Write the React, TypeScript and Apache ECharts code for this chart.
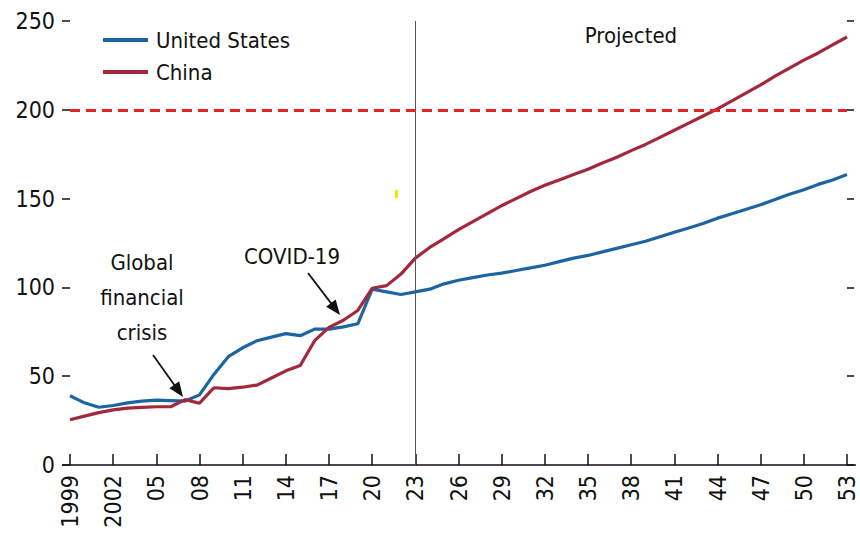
import React, { useEffect, useRef } from "react";
import * as echarts from "echarts";

const years = [
  "1999", "2000", "2001", "2002", "2003", "2004", "2005", "2006", "2007", "2008",
  "2009", "2010", "2011", "2012", "2013", "2014", "2015", "2016", "2017", "2018",
  "2019", "2020", "2021", "2022", "2023", "2024", "2025", "2026", "2027", "2028",
  "2029", "2030", "2031", "2032", "2033", "2034", "2035", "2036", "2037", "2038",
  "2039", "2040", "2041", "2042", "2043", "2044", "2045", "2046", "2047", "2048",
  "2049", "2050", "2051", "2052", "2053",
];

const tickLabels = [
  "1999", "2002", "05", "08", "11", "14", "17", "20", "23", "26",
  "29", "32", "35", "38", "41", "44", "47", "50", "53",
];

const usValues = [
  39, 35, 32.5, 33.5, 35, 36, 36.5, 36.3, 36, 39.5,
  51, 61, 66, 70, 72, 74, 72.8, 76.5, 76.5, 77.8,
  79.5, 99, 97.5, 96, 97.5, 99, 102, 104, 105.5, 107,
  108, 109.5, 111, 112.5, 114.5, 116.5, 118, 120, 122, 124,
  126, 128.5, 131, 133.5, 136, 139, 141.5, 144, 146.5, 149.5,
  152.5, 155, 158, 160.5, 163.5,
];

const chinaValues = [
  25.5, 27.5, 29.5, 31, 32, 32.5, 32.8, 32.8, 36.8, 34.8,
  43.5, 43, 43.8, 45, 49, 53, 56, 70, 77.5, 81.5,
  87, 99.5, 101, 107.5, 116.5, 122.5, 127.5, 132.5, 137, 141.5,
  146, 150, 154, 157.5, 160.5, 163.5, 166.5, 170, 173.3, 177,
  180.5, 184.5, 188.5, 192.5, 196.5, 200.5, 205, 209.5, 214, 219,
  223.5, 228, 232, 236.5, 241,
];

const projectionStart = "2023";
const thresholdValue = 200;

const FONT = "'Liberation Sans Narrow', 'Arial Narrow', 'DejaVu Sans Condensed', sans-serif";
const BLUE = "#1c64a2";
const RED = "#a3283b";

function arrow(x1: number, y1: number, x2: number, y2: number) {
  const dx = x2 - x1;
  const dy = y2 - y1;
  const len = Math.sqrt(dx * dx + dy * dy);
  const ux = dx / len;
  const uy = dy / len;
  const hl = 15;
  const hw = 6;
  const bx = x2 - ux * hl;
  const by = y2 - uy * hl;
  const px = -uy * hw;
  const py = ux * hw;
  return [
    {
      type: "line",
      shape: { x1, y1, x2: bx + ux * 2, y2: by + uy * 2 },
      style: { stroke: "#111", lineWidth: 1.8 },
    },
    {
      type: "polygon",
      shape: { points: [[x2, y2], [bx + px, by + py], [bx - px, by - py]] },
      style: { fill: "#111" },
    },
  ];
}

export default function App() {
  const ref = useRef<HTMLDivElement>(null);
  useEffect(() => {
    document.body.style.margin = "0";
    if (!ref.current) return;
    const chart = echarts.init(ref.current, null, { renderer: "svg" });
    const axisTextStyle = { fontFamily: FONT, fontSize: 23, color: "#111" };
    chart.setOption({
      animation: false,
      backgroundColor: "#fff",
      grid: { left: 70, right: 13, top: 21, bottom: 76, containLabel: false },
      legend: {
        orient: "vertical",
        left: 103,
        top: 29,
        padding: 0,
        itemGap: 10,
        itemWidth: 45,
        itemHeight: 4,
        icon: "rect",
        textStyle: { fontFamily: FONT, fontSize: 22, color: "#111", padding: [0, 0, 0, 3] },
        data: ["United States", "China"],
      },
      xAxis: {
        type: "category",
        data: years,
        boundaryGap: false,
        axisLine: { show: true, lineStyle: { color: "#111", width: 1.5 } },
        axisTick: { show: true, inside: true, length: 11, interval: 2, lineStyle: { color: "#111", width: 1.5 } },
        axisLabel: {
          interval: 2,
          rotate: 90,
          margin: 10,
          ...axisTextStyle,
          formatter: (v: string, i: number) => (i % 3 === 0 ? tickLabels[i / 3] : ""),
        },
        splitLine: { show: false },
      },
      yAxis: [
        {
          type: "value",
          min: 0,
          max: 250,
          interval: 50,
          axisLine: { show: false },
          axisTick: { show: true, length: 8, lineStyle: { color: "#111", width: 1.5 } },
          axisLabel: { margin: 15, ...axisTextStyle },
          splitLine: { show: false },
        },
        {
          type: "value",
          position: "right",
          min: 0,
          max: 250,
          interval: 50,
          axisLine: { show: false },
          axisTick: { show: true, length: 7, lineStyle: { color: "#111", width: 1.5 } },
          axisLabel: { show: false },
          splitLine: { show: false },
        },
      ],
      series: [
        {
          name: "United States",
          type: "line",
          data: usValues,
          symbol: "none",
          lineStyle: { color: BLUE, width: 3.2 },
          itemStyle: { color: BLUE },
          z: 3,
          markLine: {
            silent: true,
            symbol: "none",
            label: { show: false },
            data: [{ xAxis: projectionStart }],
            lineStyle: { color: "#555", width: 1, type: "solid" },
          },
        },
        {
          name: "China",
          type: "line",
          data: chinaValues,
          symbol: "none",
          lineStyle: { color: RED, width: 3.2 },
          itemStyle: { color: RED },
          z: 4,
          markLine: {
            silent: true,
            symbol: "none",
            label: { show: false },
            data: [{ yAxis: thresholdValue }],
            lineStyle: { color: "#e3232a", width: 2.8, type: [10, 6] },
          },
        },
      ],
      graphic: [
        {
          type: "text",
          x: 631,
          y: 24,
          style: { text: "Projected", fontFamily: FONT, fontSize: 22, align: "center", fill: "#111" },
        },
        {
          type: "text",
          x: 142,
          y: 245,
          style: {
            text: "Global\nfinancial\ncrisis",
            fontFamily: FONT,
            fontSize: 22,
            lineHeight: 35,
            align: "center",
            fill: "#111",
          },
        },
        {
          type: "text",
          x: 292,
          y: 239,
          style: { text: "COVID-19", fontFamily: FONT, fontSize: 22, lineHeight: 35, align: "center", fill: "#111" },
        },
        ...arrow(153, 355, 183, 397),
        ...arrow(308, 273, 340, 315),
        {
          type: "line",
          shape: { x1: 62, y1: 465, x2: 70, y2: 465 },
          style: { stroke: "#111", lineWidth: 1.5 },
        },
        {
          type: "line",
          shape: { x1: 847, y1: 465, x2: 856, y2: 465 },
          style: { stroke: "#111", lineWidth: 1.5 },
        },
        {
          type: "rect",
          shape: { x: 395, y: 190, width: 3, height: 8 },
          style: { fill: "#f2e600" },
        },
      ],
    });
    return () => chart.dispose();
  }, []);
  return <div ref={ref} style={{ width: 860, height: 541 }} />;
}
